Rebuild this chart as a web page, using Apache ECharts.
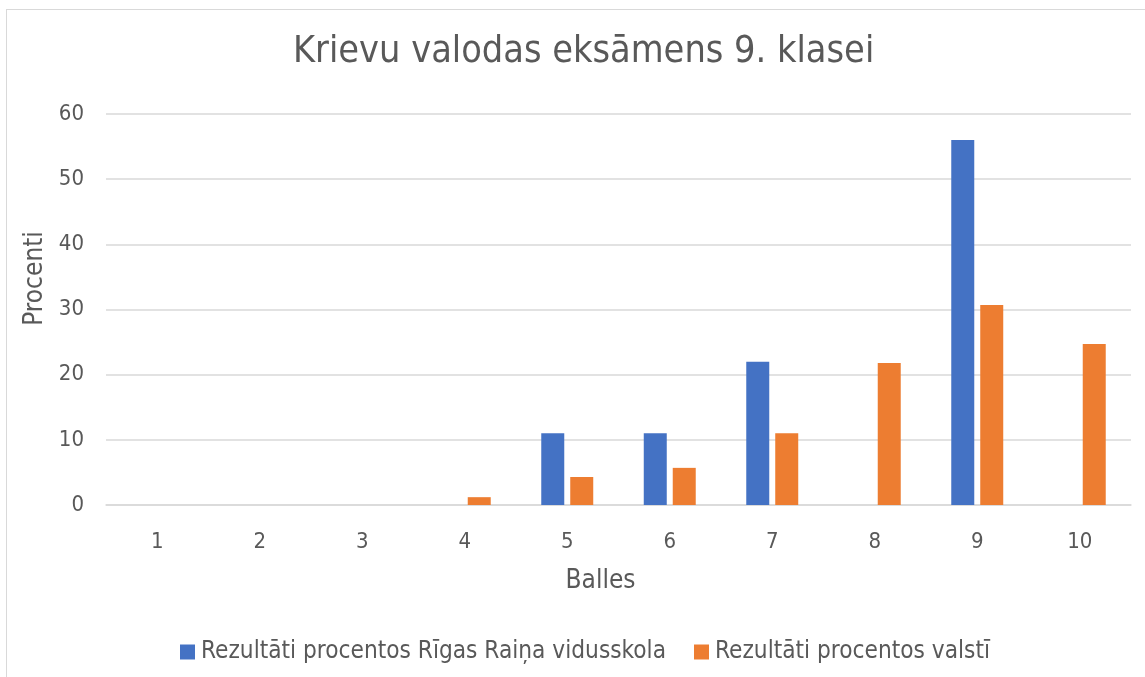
<!DOCTYPE html>
<html lang="lv">
<head>
    <meta charset="utf-8">
    <title>Krievu valodas eksāmens 9. klasei</title>
    <script src="https://cdn.jsdelivr.net/npm/echarts@6/dist/echarts.min.js"></script>
    <style>
        body { margin: 0; background: #fff; overflow: hidden; }
        #frame { position: absolute; left: 6px; top: 9px; width: 1200px; height: 720px; border: 1px solid #d9d9d9; }
        #main { position: absolute; left: 0; top: 0; width: 1145px; height: 677px; }
    </style>
</head>
<body>
<div id="frame"></div>
<div id="main"></div>
<script type="text/javascript">
    // balles 1..10
    var balles = ['1', '2', '3', '4', '5', '6', '7', '8', '9', '10'];
    // procenti - Rīgas Raiņa vidusskola
    var skola = [0, 0, 0, 0, 11, 11, 22, 0, 56, 0];
    // procenti - valstī
    var valsts = [0, 0, 0, 1.2, 4.3, 5.7, 11, 21.8, 30.7, 24.7];

    var fontName = '"DejaVu Sans Condensed", "DejaVu Sans", sans-serif';
    var textColor = '#595959';

    var myChart = echarts.init(document.getElementById('main'));

    var option = {
        textStyle: { fontFamily: fontName },
        title: {
            text: 'Krievu valodas eksāmens 9. klasei',
            left: 288,
            top: 28,
            textStyle: { fontFamily: fontName, fontSize: 37.5, fontWeight: 'normal', color: textColor }
        },
        legend: {
            left: 175,
            top: 635,
            itemWidth: 15,
            itemHeight: 15,
            itemGap: 28,
            icon: 'rect',
            textStyle: { fontFamily: fontName, fontSize: 24.2, color: textColor, padding: [0, 0, 0, 1] },
            data: ['Rezultāti procentos Rīgas Raiņa vidusskola', 'Rezultāti procentos valstī']
        },
        grid: {
            left: 106,
            right: 14,
            top: 114,
            bottom: 172
        },
        xAxis: {
            type: 'category',
            data: balles,
            name: 'Balles',
            nameLocation: 'middle',
            nameGap: 63,
            nameTextStyle: { fontFamily: fontName, fontSize: 26, color: textColor, padding: [0, 36, 0, 0] },
            axisLine: { lineStyle: { color: '#d9d9d9', width: 1.5 } },
            axisTick: { show: false },
            axisLabel: { fontFamily: fontName, fontSize: 22, color: textColor, margin: 26 }
        },
        yAxis: {
            type: 'value',
            min: 0,
            max: 60,
            interval: 10,
            name: 'Procenti',
            nameLocation: 'middle',
            nameGap: 56,
            nameTextStyle: { fontFamily: fontName, fontSize: 26, color: textColor, padding: [0, 0, 0, 62] },
            axisLine: { show: false },
            axisTick: { show: false },
            axisLabel: { fontFamily: fontName, fontSize: 22, color: textColor, margin: 22 },
            splitLine: { lineStyle: { color: '#d9d9d9', width: 1.5 } }
        },
        series: [
            {
                name: 'Rezultāti procentos Rīgas Raiņa vidusskola',
                type: 'bar',
                data: skola,
                barWidth: 23,
                barGap: '26%',
                itemStyle: { color: '#4472C4' }
            },
            {
                name: 'Rezultāti procentos valstī',
                type: 'bar',
                data: valsts,
                barWidth: 23,
                barGap: '26%',
                itemStyle: { color: '#ED7D31' }
            }
        ]
    };

    myChart.setOption(option);
</script>
</body>
</html>
